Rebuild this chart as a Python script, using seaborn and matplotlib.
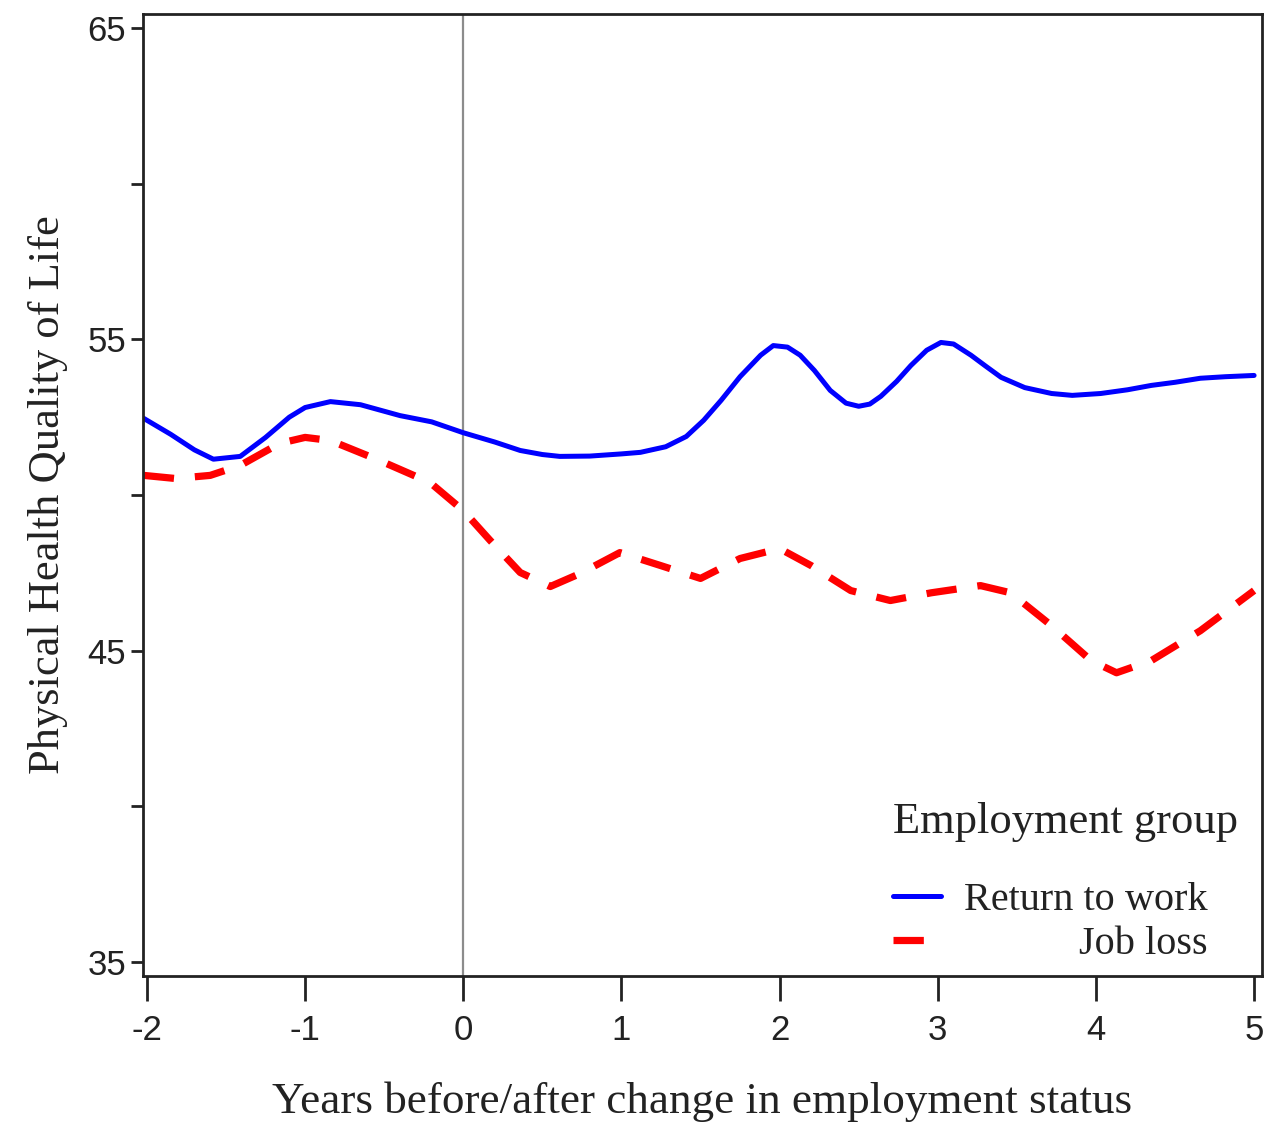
import numpy as np
import pandas as pd
import seaborn as sns
import matplotlib
matplotlib.use("Agg")
import matplotlib.pyplot as plt
import matplotlib.transforms as mtransforms

# ---- data ----
years_rtw = [-2.02, -1.85, -1.7, -1.58, -1.41, -1.25, -1.1, -1.0, -0.84, -0.65, -0.4, -0.2, 0.0,
             0.2, 0.36, 0.5, 0.61, 0.8, 1.0, 1.12, 1.28, 1.41, 1.52, 1.63, 1.75, 1.88, 1.96, 2.05,
             2.13, 2.22, 2.32, 2.42, 2.50, 2.57, 2.64, 2.74, 2.83, 2.93, 3.02, 3.1, 3.21, 3.30,
             3.40, 3.55, 3.72, 3.85, 4.03, 4.2, 4.35, 4.5, 4.66, 4.82, 5.0]
qol_rtw = [52.46, 51.95, 51.45, 51.15, 51.24, 51.85, 52.5, 52.81, 53.0, 52.9, 52.55, 52.35, 52.0,
           51.7, 51.43, 51.3, 51.24, 51.25, 51.32, 51.37, 51.55, 51.88, 52.4, 53.04, 53.8, 54.49,
           54.8, 54.75, 54.49, 54.0, 53.36, 52.95, 52.85, 52.92, 53.17, 53.65, 54.16, 54.65, 54.9,
           54.85, 54.49, 54.15, 53.78, 53.45, 53.26, 53.2, 53.26, 53.38, 53.52, 53.62, 53.75,
           53.8, 53.84]

years_jl = [-2.02, -1.82, -1.6, -1.41, -1.16, -1.0, -0.84, -0.53, -0.21, 0.0, 0.17, 0.36, 0.55,
            0.74, 0.99, 1.25, 1.5, 1.75, 2.0, 2.2, 2.45, 2.7, 2.96, 3.27, 3.46, 3.72, 3.97, 4.13,
            4.35, 4.66, 5.0]
qol_jl = [50.63, 50.53, 50.63, 50.95, 51.66, 51.85, 51.75, 51.11, 50.40, 49.5, 48.54, 47.51, 47.06,
          47.48, 48.15, 47.73, 47.32, 47.96, 48.28, 47.73, 46.93, 46.61, 46.86, 47.09, 46.86,
          45.80, 44.68, 44.29, 44.68, 45.64, 46.93]

groups = ["Return to work", "Job loss"]
y_ticks = [35, 40, 45, 50, 55, 60, 65]
y_ticklabels = ["35", "", "45", "", "55", "", "65"]
x_ticks = [-2, -1, 0, 1, 2, 3, 4, 5]

df = pd.concat([
    pd.DataFrame({"year": years_rtw, "qol": qol_rtw, "group": groups[0]}),
    pd.DataFrame({"year": years_jl, "qol": qol_jl, "group": groups[1]}),
], ignore_index=True)

sns.set_theme(style="white")
plt.rcParams["font.family"] = ["Liberation Sans", "DejaVu Sans"]

fig = plt.figure(figsize=(12.66, 11.24), dpi=100)
ax = fig.add_axes([143 / 1266, 1 - 976 / 1124, (1262 - 143) / 1266, (976 - 14) / 1124])

ax.axvline(0, color="#8c8c8c", lw=1.6, zorder=1)

sns.lineplot(data=df, x="year", y="qol", hue="group", style="group",
             hue_order=groups, style_order=groups,
             palette={groups[0]: "#0000ff", groups[1]: "#ff0000"},
             dashes={groups[0]: "", groups[1]: (4.2, 2.9)},
             estimator=None, sort=False, legend=False, ax=ax)
for ln, lw in zip(ax.lines[1:], [3.6, 5.2]):
    ln.set_linewidth(lw)
    ln.set_dash_capstyle("butt")
    ln.set_solid_capstyle("round")
    ln.set_solid_joinstyle("round")

ax.set_xlim(-2.025, 5.05)
ax.set_ylim(34.55, 65.45)
ax.set_xticks(x_ticks)
ax.set_xticklabels([str(t) for t in x_ticks])
ax.set_yticks(y_ticks)
ax.set_yticklabels(y_ticklabels)
ax.tick_params(axis="x", direction="out", length=18, width=2, colors="#222222",
               labelsize=25, pad=9, bottom=True)
ax.tick_params(axis="y", direction="out", length=9, width=2, colors="#222222",
               labelsize=25, pad=3, left=True)
for s in ax.spines.values():
    s.set_color("#222222")
    s.set_linewidth(2)

serif = ["Liberation Serif", "DejaVu Serif"]
ax.set_xlabel("Years before/after change in employment status", family=serif,
              fontsize=32.5, color="#222222", labelpad=25)
ax.set_ylabel("Physical Health Quality of Life", family=serif,
              fontsize=32, color="#222222", labelpad=14)

handles = ax.lines[1:3]
leg = ax.legend(handles, groups, title="Employment group", loc="upper left",
                bbox_to_anchor=(0.670, 0.181), frameon=False, borderpad=0,
                borderaxespad=0,
                handlelength=1.2, handletextpad=0.57, labelspacing=0.17,
                prop={"family": serif, "size": 29})
leg.get_title().set_family(serif)
leg.get_title().set_fontsize(32)
leg.get_title().set_color("#222222")
leg._legend_box.sep = 29
leg._legend_box.align = "left"
for t in leg.get_texts():
    t.set_color("#222222")

# right-align the legend labels
fig.canvas.draw()
r = fig.canvas.get_renderer()
texts = leg.get_texts()
widths = [t.get_window_extent(r).width for t in texts]
wmax = max(widths)
for t, w in zip(texts, widths):
    if wmax - w > 0.5:
        t.set_transform(t.get_transform() + mtransforms.Affine2D().translate(wmax - w, 0))

fig.savefig("out.png", dpi=100, facecolor="white")
